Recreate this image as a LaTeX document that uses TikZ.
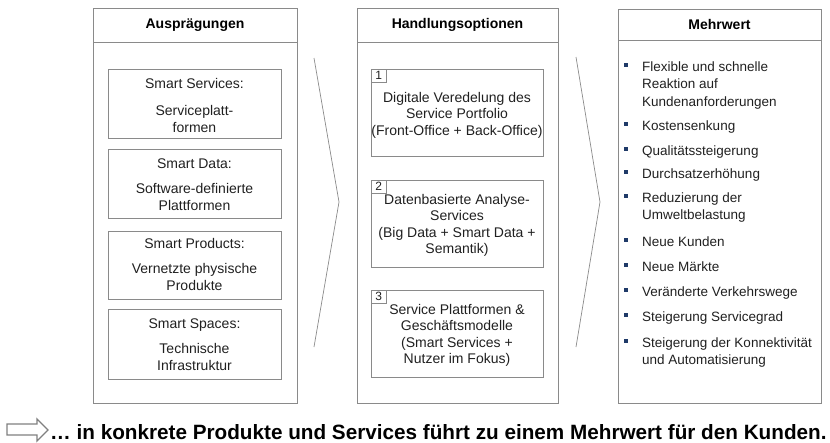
\documentclass[tikz,border=0pt]{standalone}
\usepackage{fontspec}
\setmainfont{Liberation Sans}
\definecolor{linegray}{HTML}{8A8A8A}
\definecolor{txt}{HTML}{202020}
\definecolor{bulletblue}{HTML}{1F3A68}
\begin{document}
\begin{tikzpicture}[x=1pt,y=-1pt,
  frame/.style={draw=linegray, line width=0.7pt, inner sep=0pt, anchor=north west},
  rule/.style={draw=linegray, line width=0.7pt},
  hdr/.style={font=\fontsize{14}{16}\selectfont\bfseries, text=black, inner sep=0pt},
  ltitle/.style={font=\fontsize{14}{17}\selectfont, text=txt, anchor=base, inner sep=0pt},
  lbody/.style={font=\fontsize{14}{17.5}\selectfont, text=txt, align=center, anchor=base, inner sep=0pt},
  mbody/.style={font=\fontsize{14}{16.5}\selectfont, text=txt, align=center, anchor=base, inner sep=0pt},
  numbox/.style={draw=linegray, line width=0.6pt, anchor=north west, minimum width=15pt, minimum height=13pt, inner sep=0pt, font=\fontsize{12}{12}\selectfont, text=txt},
  item/.style={font=\fontsize{13.5}{17.5}\selectfont, text=txt, align=left, anchor=base west, inner sep=0pt},
  bul/.style={fill=bulletblue, minimum size=3.2pt, inner sep=0pt},
  chev/.style={draw=linegray, line width=0.7pt, line join=miter},
  hollow/.style={draw=gray, line width=1.3pt, fill=white, line join=miter}
]
\useasboundingbox (0,0) rectangle (830,442);

% ---------- three columns ----------
\node[frame, minimum width=204pt, minimum height=395pt] (p1) at (93,8) {};
\node[frame, minimum width=201pt, minimum height=395pt] (p2) at (357,8) {};
\node[frame, minimum width=203pt, minimum height=394pt] (p3) at (618,9) {};
\draw[rule] (93,42) -- (297,42);
\draw[rule] (357,42) -- (558,42);
\draw[rule] (618,40) -- (821,40);

\node[hdr] (h1) at (195,25) {Ausprägungen};
\node[hdr] (h2) at (457.5,25) {Handlungsoptionen};
\node[hdr] (h3) at (719.5,24) {Mehrwert};

% ---------- left column: characteristics ----------
% (multi-line texts are placed by the baseline of their last line)
\node[frame, minimum width=173pt, minimum height=69pt] (a1) at (108,69) {};
\node[frame, minimum width=173pt, minimum height=69pt] (a2) at (108,149) {};
\node[frame, minimum width=173pt, minimum height=68pt] (a3) at (108,231) {};
\node[frame, minimum width=173pt, minimum height=70pt] (a4) at (108,309) {};

\node[ltitle] (a1t) at (194.5,88) {Smart Services:};
\node[lbody]  (a1b) at (194.5,132.5) {Serviceplatt-\\formen};
\node[ltitle] (a2t) at (194.5,168) {Smart Data:};
\node[lbody]  (a2b) at (194.5,210.5) {Software-definierte\\Plattformen};
\node[ltitle] (a3t) at (194.5,248) {Smart Products:};
\node[lbody]  (a3b) at (194.5,290.5) {Vernetzte physische\\Produkte};
\node[ltitle] (a4t) at (194.5,328) {Smart Spaces:};
\node[lbody]  (a4b) at (194.5,370.5) {Technische\\Infrastruktur};

% ---------- middle column: options ----------
\node[frame, minimum width=172pt, minimum height=87pt] (b1) at (371,69) {};
\node[frame, minimum width=172pt, minimum height=87pt] (b2) at (371,180) {};
\node[frame, minimum width=172pt, minimum height=87pt] (b3) at (371,290) {};
\node[numbox] (n1) at (b1.north west) {1};
\node[numbox] (n2) at (b2.north west) {2};
\node[numbox] (n3) at (b3.north west) {3};

\node[mbody] (b1t) at (457,135) {Digitale Veredelung des\\Service Portfolio\\(Front-Office + Back-Office)};
\node[mbody] (b2t) at (457,253.5) {Datenbasierte Analyse-\\Services\\(Big Data + Smart Data +\\Semantik)};
\node[mbody] (b3t) at (457,363.5) {Service Plattformen \&\\Geschäftsmodelle\\(Smart Services +\\Nutzer im Fokus)};

% ---------- chevrons between the columns ----------
\coordinate (c1a) at (314,58);
\coordinate (c1b) at (339,202);
\coordinate (c1c) at (314,347);
\draw[chev] (c1a) -- (c1b) -- (c1c);
\coordinate (c2a) at (576,57);
\coordinate (c2b) at (600,202);
\coordinate (c2c) at (576,347);
\draw[chev] (c2a) -- (c2b) -- (c2c);

% ---------- right column: added value ----------
% \yy: centre of the first line, \ll: baseline of the last line
\foreach \yy/\ll/\nm/\tx in {
  66/106/r1/{Flexible und schnelle\\Reaktion auf\\Kundenanforderungen},
  125/130/r2/{Kostensenkung},
  150/155/r3/{Qualitätssteigerung},
  173/178/r4/{Durchsatzerhöhung},
  197/219.5/r5/{Reduzierung der\\Umweltbelastung},
  241/246/r6/{Neue Kunden},
  266/271/r7/{Neue Märkte},
  291/296/r8/{Veränderte Verkehrswege},
  316/321/r9/{Steigerung Servicegrad},
  342/364.5/r10/{Steigerung der Konnektivität\\und Automatisierung}}{
  \node[bul] (\nm-b) at (626,\yy-1) {};
  \node[item] (\nm) at (642,\ll) {\tx};
}

% ---------- summary line ----------
\draw[hollow] (7,424) -- (37,424) -- (37,419) -- (48,430) -- (37,441) -- (37,435) -- (7,435) -- cycle;
\node[anchor=base west, inner sep=0pt, font=\fontsize{20.7}{24}\selectfont\bfseries, text=black]
  (sum) at (50,439) {… in konkrete Produkte und Services führt zu einem Mehrwert für den Kunden.};
\end{tikzpicture}
\end{document}
